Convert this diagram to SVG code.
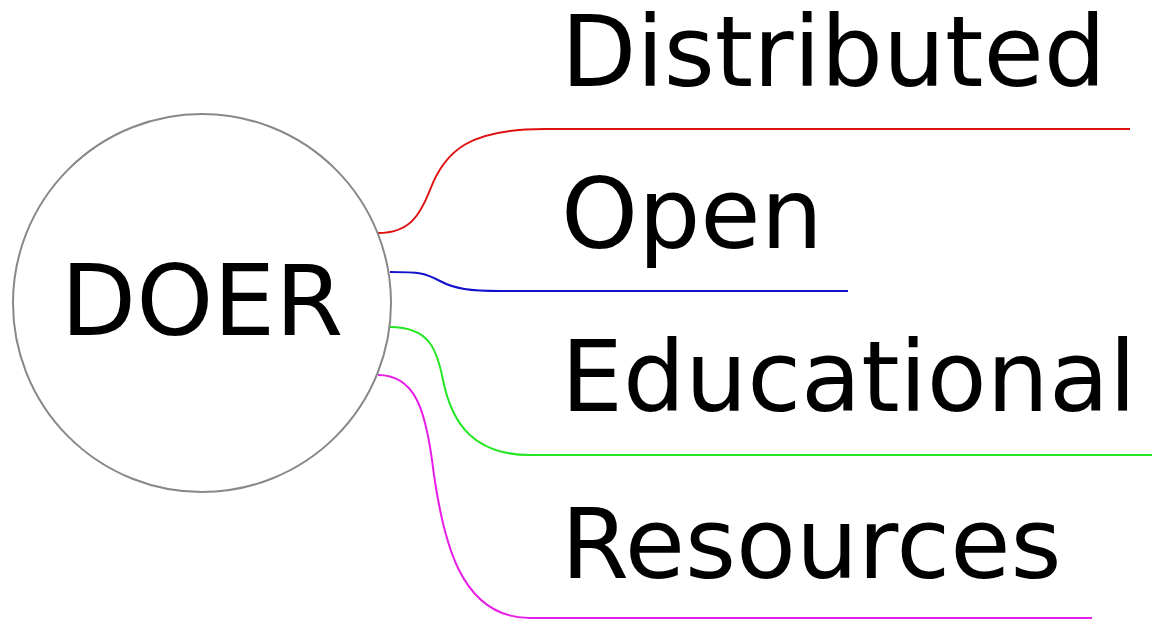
<svg xmlns="http://www.w3.org/2000/svg" width="1153" height="623" viewBox="0 0 1153 623">
<style>
.lbl{font-family:"DejaVu Sans","Liberation Sans",sans-serif;font-size:98px;fill:#000}
.edge{fill:none;stroke-width:2}
</style>
<rect width="1153" height="623" fill="#fff"/>
<g id="connectors">
<path class="edge" stroke="#dd1111" d="M378,233 C410,233 420,215 430,190 C445,150 470,129 545,129 L1130,129"/>
<path class="edge" stroke="#1111cc" d="M390,272 C420,272 425,273 440,281 C455,289 470,291 500,291 L848,291"/>
<path class="edge" stroke="#22e622" d="M390,327 C430,327 437,350 443,380 C452,425 475,455 530,455 L1152,455"/>
<path class="edge" stroke="#e61ee6" d="M378,375 C415,375 425,410 432,460 C442,540 460,618 530,618 L1092,618"/>
</g>
<g id="root">
<circle cx="202" cy="303" r="189" fill="#fff" stroke="#888" stroke-width="2"/>
<text class="lbl" x="202" y="335" text-anchor="middle" font-size="97">DOER</text>
</g>
<g id="n-distributed"><text class="lbl" x="561" y="86">Distributed</text></g>
<g id="n-open"><text class="lbl" x="561" y="248">Open</text></g>
<g id="n-educational"><text class="lbl" x="561" y="411">Educational</text></g>
<g id="n-resources"><text class="lbl" x="561" y="578">Resources</text></g>
</svg>
